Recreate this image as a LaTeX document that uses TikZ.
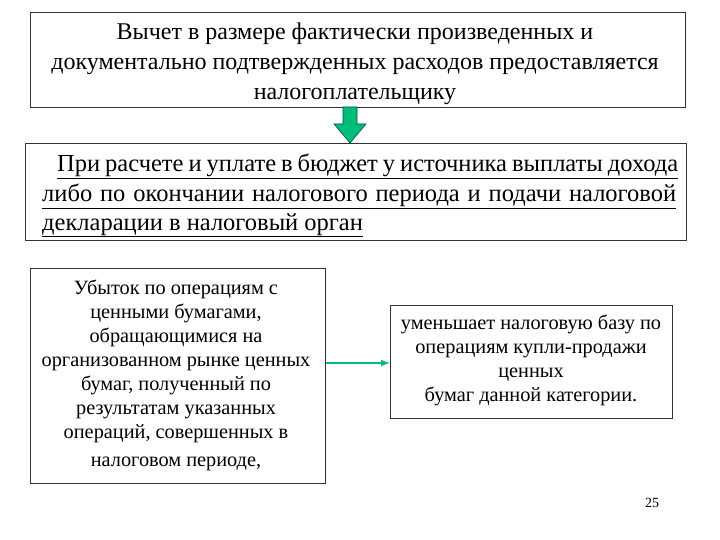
\documentclass[tikz,border=0pt]{standalone}
\usepackage{fontspec}
\setmainfont{Liberation Serif}
\definecolor{arrg}{RGB}{0,190,120}
\begin{document}
\begin{tikzpicture}[x=1pt,y=-1pt,
  box/.style={draw=black!80,line width=0.8pt,fill=white},
  txt/.style={inner sep=0pt,anchor=base west,font=\fontsize{24.5}{28}\selectfont},
  small/.style={align=center,font=\fontsize{20.3}{24}\selectfont,inner sep=0pt}]
\useasboundingbox (0,0) rectangle (720,540);
\node[box,minimum width=655pt,minimum height=95pt,anchor=north west] (b1) at (30,12) {};
\node[align=center,font=\fontsize{24}{30}\selectfont,inner sep=0pt] (t1) at (355,64) {Вычет в размере фактически произведенных и\\документально подтвержденных расходов предоставляется\\налогоплательщику};
\node[box,minimum width=661pt,minimum height=97pt,anchor=north west] (b2) at (25,143) {};
\node[txt] (l1) at (57,172) {\underline{\makebox[621pt][s]{При расчете и уплате в бюджет у источника выплаты дохода}}};
\node[txt] (l2) at (42,202) {\underline{\makebox[634pt][s]{либо по окончании налогового периода и подачи налоговой}}};
\node[txt] (l3) at (42,230) {\underline{декларации в налоговый орган}};
\draw[fill=arrg,draw=teal!60!black,line width=0.6pt]
  (343,107) -- (357,107) -- (357,124) -- (366,124) -- (350,143) -- (334,124) -- (343,124) -- cycle;
\node[box,minimum width=295pt,minimum height=215pt,anchor=north west] (b3) at (30,268) {};
\node[small] (t3) at (176,375) {Убыток по операциям с\\ценными бумагами,\\обращающимися на\\организованном рынке ценных\\бумаг, полученный по\\результатам указанных\\операций, совершенных в\\[4pt]налоговом периоде,};
\node[box,minimum width=282pt,minimum height=113pt,anchor=north west] (b4) at (390,305) {};
\node[small] (t4) at (531,360) {уменьшает налоговую базу по\\операциям купли-продажи\\ценных\\бумаг данной категории.};
\draw[-latex,line width=2pt,arrg] (b3.east |- 0,363) -- (b4.west |- 0,363);
\node[font=\fontsize{14}{16}\selectfont] (pg) at (652,503) {25};
\end{tikzpicture}
\end{document}
